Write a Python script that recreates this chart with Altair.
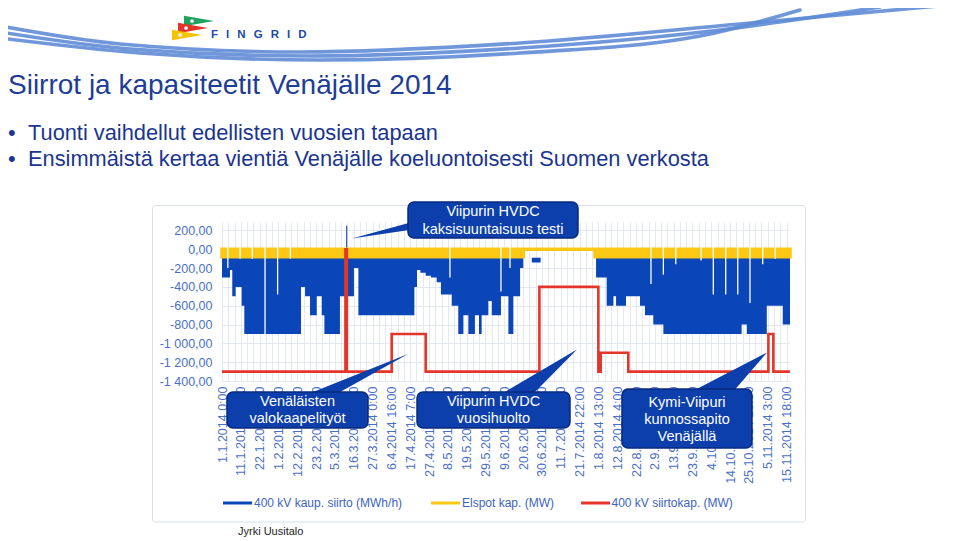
import json
import altair as alt
import pandas as pd

FONT = "Liberation Sans, Arial, Helvetica, sans-serif"

# ---------------- values ----------------
# x axis: one label every 255 hours from 1.1.2014 0:00 (local time)
x_labels = ["1.1.2014 0:00", "11.1.2014 15:00", "22.1.2014 6:00", "1.2.2014 21:00",
            "12.2.2014 12:00", "23.2.2014 3:00", "5.3.2014 18:00", "16.3.2014 9:00",
            "27.3.2014 0:00", "6.4.2014 16:00", "17.4.2014 7:00", "27.4.2014 22:00",
            "8.5.2014 13:00", "19.5.2014 4:00", "29.5.2014 19:00", "9.6.2014 10:00",
            "20.6.2014 1:00", "30.6.2014 16:00", "11.7.2014 7:00", "21.7.2014 22:00",
            "1.8.2014 13:00", "12.8.2014 4:00", "22.8.2014 19:00", "2.9.2014 10:00",
            "13.9.2014 1:00", "23.9.2014 16:00", "4.10.2014 7:00", "14.10.2014 22:00",
            "25.10.2014 13:00", "5.11.2014 3:00", "15.11.2014 18:00"]
label_step_days = 255 / 24
grid_step_days = 85 / 24

y_values = [200, 0, -200, -400, -600, -800, -1000, -1200, -1400]
y_labels = ["200,00", "0,00", "-200,00", "-400,00", "-600,00", "-800,00",
            "-1 000,00", "-1 200,00", "-1 400,00"]

series_names = ["400 kV kaup. siirto (MWh/h)", "Elspot kap. (MW)", "400 kV siirtokap. (MW)"]
series_colors = ["#0a46b8", "#fcc813", "#e4352b"]

# blue: hourly commercial transfer, shown as blocks (day of year, block top, block bottom)
flow_day = [0, 4.5, 5.8, 7.7, 11.1, 12.6, 44.6, 46.9, 49.7, 53.5, 56.3, 57.8, 66.6, 70.1,
            70.7, 74.5, 77.0, 108.6, 110.1, 112.0, 115.0, 118.0, 121.2, 123.6, 129.7,
            133.4, 136.3, 139.1, 142.8, 145.1, 146.6, 150.4, 152.3, 157.5, 161.7, 164.5,
            168.3, 170.1, 174.9, 179.9, 211.2, 217.2, 221.0, 222.5, 228.1, 236.0, 238.8,
            243.5, 249.2, 293.4, 296.3, 307.6, 316.6, 320.7]
flow_top = [-70, -70, -70, -70, -70, -70, -70, -70, -70, -70, -70, -70, -70, 250,
            -70, -70, -70, -70, -70, -70, -70, -70, -70, -70, -70,
            -70, -70, -70, -70, -70, -70, -70, -70, -70, -70, -70,
            -70, 0, -90, 0, -70, -70, -70, -70, -70, -70, -70,
            -70, -70, -70, -70, -70, -70, -70]
flow_bottom = [-300, -220, -500, -400, -600, -900, -400, -500, -700, -500, -700, -900, -500, -500,
               -500, -200, -700, -400, -220, -250, -280, -300, -350, -480, -600,
               -900, -700, -900, -700, -900, -700, -550, -700, -500, -900, -500,
               -200, 0, -140, 0, -300, -600, -500, -600, -500, -600, -700,
               -800, -900, -800, -900, -600, -800, -800]

# hours where the hourly series drop out (thin white gaps)
gap_day = [3.3, 10.2, 17.1, 24.3, 31.4, 38.6, 128.7, 157.5, 162.6, 242.2, 249.2, 256.2,
           270.5, 277.4, 284.4, 291.2, 298.1, 305.3, 312.3]
gap_bottom = [-200, -100, -100, -920, -480, -100, -300, -450, -200, -370, -270, -160,
              -120, -480, -480, -480, -570, -160, -100]

# yellow: Elspot capacity band
elspot_day = [0, 170.1, 210.6, 320.7]
elspot_low = [-80, 0, -80, -80]

# red: 400 kV transfer capacity
cap_day = [0, 69.7, 70.5, 95.8, 115.0, 179.2, 212.5, 213.8, 229.4, 308.5, 311.3, 320.7]
cap_mw = [-1300, 0, -1300, -900, -1300, -400, -1300, -1100, -1300, -900, -1300, -1300]

# callouts
callout_text = [["Viipurin HVDC", "kaksisuuntaisuus testi"],
                ["Venäläisten", "valokaapelityöt"],
                ["Viipurin HVDC", "vuosihuolto"],
                ["Kymi-Viipuri", "kunnossapito", "Venäjällä"]]

# ---------------- layout ----------------
PL, PT, W, H = 222, 222, 568, 159
TOTAL_W, TOTAL_H = 944, 533
XMAX = 320.7
YMIN, YMAX = -1400, 290


def px2d(px):
    return (px - PL) * XMAX / W


def py2v(py):
    return YMAX - (py - PT) * (YMAX - YMIN) / H


xs = alt.Scale(domain=[0, XMAX], nice=False, zero=False)
ys = alt.Scale(domain=[YMIN, YMAX], nice=False, zero=False)

AX_BLUE = "#4a70c6"
GRID = "#e3e8f1"
BOX = "#0c3fab"

grid_values = [i * grid_step_days for i in range(91)]
x_expr = (f"(round(datum.value / {grid_step_days}) % 3 == 0) ? "
          f"{json.dumps(x_labels)}[round(datum.value / {label_step_days})] : ''")
y_expr = f"{json.dumps(y_labels)}[round(({y_values[0]} - datum.value) / 200)]"

x_axis = alt.Axis(values=grid_values, labelExpr=x_expr, labelAngle=-90, labelOverlap=False,
                  labelFlush=False, labelFont=FONT, labelFontSize=12.5, labelColor=AX_BLUE,
                  labelPadding=5, ticks=False, domain=False, grid=True, gridColor=GRID,
                  title=None, zindex=0)
y_axis = alt.Axis(values=y_values, labelExpr=y_expr, labelFont=FONT, labelFontSize=12.5,
                  labelColor=AX_BLUE, labelPadding=10, ticks=False, domain=False, grid=True,
                  gridColor=GRID, title=None, zindex=0, labelOverlap=False)


def X(f="d"):
    return alt.X(f"{f}:Q", scale=xs, axis=x_axis)


def Y(f="v"):
    return alt.Y(f"{f}:Q", scale=ys, axis=y_axis)


one = pd.DataFrame({"a": [0]})


def label(txt, px, py, size, color, align="left", baseline="alphabetic", weight="normal"):
    return alt.Chart(one).mark_text(
        font=FONT, fontSize=size, color=color, align=align, baseline=baseline,
        fontWeight=weight
    ).encode(x=alt.value(px - PL), y=alt.value(py - PT), text=alt.value(txt))


# ---------------- data frames ----------------
flow = pd.DataFrame({"d": flow_day, "v": flow_top, "v2": flow_bottom})
elspot = pd.DataFrame({"d": elspot_day, "v": [0] * len(elspot_day), "v2": elspot_low})
gaps = pd.DataFrame({"d": gap_day, "v": [30] * len(gap_day), "v2": gap_bottom})
cap = pd.DataFrame({"d": cap_day, "v": cap_mw})

# ---------------- chart layers ----------------
flow_layer = alt.Chart(flow).mark_area(interpolate="step-after", color=series_colors[0]).encode(
    x=X(), y=Y(), y2="v2:Q")
elspot_layer = alt.Chart(elspot).mark_area(
    interpolate="step-after", color=series_colors[1], stroke=series_colors[1], strokeWidth=3.5
).encode(x=X(), y=Y(), y2="v2:Q")
gap_layer = alt.Chart(gaps).mark_rule(color="white", strokeWidth=1.3).encode(x=X(), y=Y(), y2="v2:Q")
cap_layer = alt.Chart(cap).mark_line(interpolate="step-after", color=series_colors[2], strokeWidth=2.6).encode(
    x=X(), y=Y())

# ---------------- decoration (page pixel positions) ----------------
frame = alt.Chart(one).mark_rect(fillOpacity=0, stroke="#d8dee8", strokeWidth=1, cornerRadius=3).encode(
    x=alt.value(152.5 - PL), x2=alt.value(805.5 - PL), y=alt.value(205.5 - PT), y2=alt.value(522 - PT))

strands = [
    ([0, 120, 300, 520, 740, 960], [26, 44, 52, 43, 24, 4]),
    ([0, 130, 310, 520, 720, 880], [32, 49, 56, 48, 30, 7]),
    ([0, 140, 320, 520, 700, 800], [38, 53, 60, 53, 36, 10]),
]
sw_rows = []
for sid, (sx, sy) in enumerate(strands):
    for a, b in zip(sx, sy):
        sw_rows.append({"d": px2d(a), "v": py2v(b), "s": sid})
swoosh = alt.Chart(pd.DataFrame(sw_rows)).mark_line(
    interpolate="monotone", strokeWidth=3.6, color="#5f8cd6", strokeCap="round", opacity=0.9
).encode(x=X(), y=Y(), detail="s:N")

pennant = "M -1 -0.35 L 1 0 L -1 0.35 Z"
flags = pd.DataFrame({"d": [px2d(199), px2d(193), px2d(187)],
                      "v": [py2v(21), py2v(28), py2v(35)],
                      "c": ["#1ea35e", "#e2342b", "#f6c300"]})
flag_layer = alt.Chart(flags).mark_point(shape=pennant, filled=True, size=900, opacity=1).encode(
    x=X(), y=Y(), color=alt.Color("c:N", scale=None))
dots = pd.DataFrame({"d": [px2d(192), px2d(186), px2d(180)],
                     "v": [py2v(21), py2v(28), py2v(35)]})
dot_layer = alt.Chart(dots).mark_point(shape="circle", filled=True, size=14, color="white", opacity=1).encode(
    x=X(), y=Y())

# callout boxes (page px: left, right, top, bottom)
boxes_px = [(408, 578, 202, 238), (227, 368, 392, 428), (417, 570, 392, 428), (622, 752, 389, 448)]
boxes = pd.DataFrame([{"d": px2d(a), "d2": px2d(b), "v": py2v(t), "v2": py2v(u)} for a, b, t, u in boxes_px])
box_layer = alt.Chart(boxes).mark_rect(cornerRadius=6, fill=BOX, stroke="#082a7e", strokeWidth=1.5).encode(
    x=X(), x2="d2:Q", y=Y(), y2="v2:Q")

# pointer to the left (vertical area): tip and base on box edge
ptrA = pd.DataFrame({"d": [px2d(352), px2d(416)], "v": [py2v(238.5), py2v(221)], "v2": [py2v(238.5), py2v(229)]})
ptrA_layer = alt.Chart(ptrA).mark_area(color=BOX).encode(x=X(), y=Y(), y2="v2:Q")

# pointers going up from the boxes (horizontal areas)
ptr_rows = []
for pid, (tipx, tipy, by, bx1, bx2) in enumerate([(408, 354, 396, 303, 333),
                                                  (577, 349.5, 396, 498, 531),
                                                  (767, 352.5, 393, 689, 732)]):
    ptr_rows.append({"id": pid, "v": py2v(tipy), "d": px2d(tipx), "d2": px2d(tipx)})
    ptr_rows.append({"id": pid, "v": py2v(by), "d": px2d(bx1), "d2": px2d(bx2)})
ptr_layer = alt.Chart(pd.DataFrame(ptr_rows)).mark_area(orient="horizontal", color=BOX).encode(
    y=Y(), x=X(), x2="d2:Q", detail="id:N")

text_pos = [(493, [211.5, 229.5]), (297.5, [402, 419]), (493.5, [402, 419]), (687, [403, 420, 437])]
txt_rows = []
for lines, (cx, cys) in zip(callout_text, text_pos):
    for t, cy in zip(lines, cys):
        txt_rows.append({"d": px2d(cx), "v": py2v(cy), "t": t})
txt_layer = alt.Chart(pd.DataFrame(txt_rows)).mark_text(
    font=FONT, fontSize=14.5, color="white", align="center", baseline="middle").encode(
    x=X(), y=Y(), text="t:N")

# legend
leg_x = [(223, 252, 254), (431, 460, 462), (581, 610, 611.5)]
leg = pd.DataFrame({"d": [px2d(a) for a, _, _ in leg_x], "d2": [px2d(b) for _, b, _ in leg_x],
                    "dt": [px2d(c) for _, _, c in leg_x], "v": [py2v(503)] * 3,
                    "c": series_colors, "t": series_names})
leg_rule = alt.Chart(leg).mark_rule(strokeWidth=3).encode(
    x=X(), x2="d2:Q", y=Y(), color=alt.Color("c:N", scale=None))
leg_text = alt.Chart(leg).mark_text(font=FONT, fontSize=12, color="#3d64c0", align="left",
                                    baseline="middle").encode(x=X("dt"), y=Y(), text="t:N")

title = label("Siirrot ja kapasiteetit Venäjälle 2014", 8, 94, 28, "#1d3d96")
b1d = label("•", 8, 140, 21.8, "#1a3590")
b1 = label("Tuonti vaihdellut edellisten vuosien tapaan", 28, 140, 21.8, "#1a3590")
b2d = label("•", 8, 166, 21.8, "#1a3590")
b2 = label("Ensimmäistä kertaa vientiä Venäjälle koeluontoisesti Suomen verkosta", 28, 166, 21.8, "#1a3590")
logo = label("F\u2002\u2009I\u2002\u2009N\u2002\u2009G\u2002\u2009R\u2002\u2009I\u2002\u2009D",
             211, 38, 11.5, "#1c4aa6", weight="bold")
footer = label("Jyrki Uusitalo", 238, 535, 11, "#222222")

chart = alt.layer(
    flow_layer, elspot_layer, gap_layer, cap_layer,
    frame, swoosh, flag_layer, dot_layer, logo, title, b1d, b1, b2d, b2,
    ptrA_layer, ptr_layer, box_layer, txt_layer,
    leg_rule, leg_text, footer
).properties(
    width=W, height=H,
    autosize=alt.AutoSizeParams(type="none"),
    padding={"left": PL - 8, "top": PT - 8, "right": TOTAL_W - (PL - 8) - W,
             "bottom": TOTAL_H - (PT - 8) - H},
    background="white",
).configure_view(stroke=None)

chart.save("out.html", embed_options={"renderer": "svg", "actions": False})
